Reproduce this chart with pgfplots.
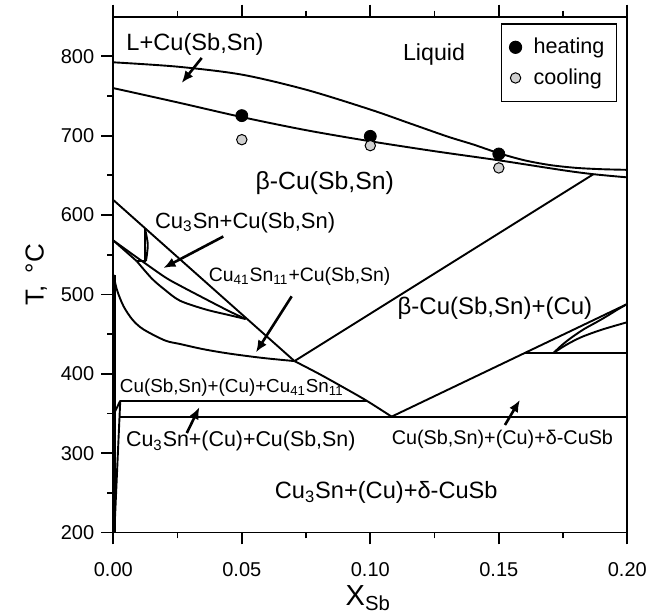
\documentclass[border=0pt]{standalone}
\usepackage{fontspec}
\setmainfont{Liberation Sans}
\usepackage{pgfplots}
\pgfplotsset{compat=1.18}
\usetikzlibrary{arrows.meta}
\definecolor{cool}{HTML}{D0D0D0}
\newcommand{\fs}[1]{\fontsize{#1}{#1}\selectfont}
\pgfplotsset{pb/.style={black, line width=0.95pt, forget plot, mark=none}}
\tikzset{arr/.style={line width=1.3pt, -{Latex[length=6pt,width=5pt]}}}
\begin{document}
\begin{tikzpicture}
% top ticks only
\begin{axis}[
  scale only axis, width=257pt, height=257.9pt,
  xmin=0, xmax=0.2, ymin=200, ymax=850,
  axis x line*=top, axis y line=none,
  xtick={0,0.05,0.1,0.15,0.2}, xticklabels={},
  minor xtick={0.025,0.075,0.125,0.175},
  tick align=outside,
  major tick length=6pt, minor tick length=3pt,
  axis line style={line width=0.9pt, -},
  xtick style={black, line width=0.9pt},
]
\end{axis}
\begin{axis}[
  scale only axis, width=257pt, height=257.9pt,
  xmin=0, xmax=0.2, ymin=200, ymax=850,
  xtick={0,0.05,0.1,0.15,0.2},
  xticklabels={0.00,0.05,0.10,0.15,0.20},
  ytick={200,300,400,500,600,700,800},
  minor xtick={0.025,0.075,0.125,0.175},
  minor ytick={250,350,450,550,650,750},
  tick align=outside,
  xtick pos=left, ytick pos=left,
  major tick length=6pt, minor tick length=3pt,
  axis line style={line width=0.9pt},
  xtick style={black, line width=0.9pt},
  ytick style={black, line width=0.9pt},
  tick label style={font=\fs{10}},
  x tick label style={yshift=-5.5pt},
  /pgf/number format/assume math mode=true,
  xlabel={X\textsubscript{Sb}},
  xlabel style={at={(axis description cs:0.496,-0.1425)}, anchor=base, font=\fs{14.5}},
  ylabel={T, \,°C},
  ylabel style={at={(axis description cs:-0.1498,0.5)}, anchor=center, font=\fs{13}},
  legend style={at={(rel axis cs:0.98,0.987)}, anchor=north east, draw=black, line width=0.6pt,
    font=\fs{10.8}, inner xsep=4pt, inner ysep=5pt, row sep=2pt},
  legend cell align=left,
]
\coordinate (bl) at (rel axis cs:0,0);
\coordinate (tr) at (rel axis cs:1,1);
% data points
\addplot[only marks, mark=*, mark size=3pt, draw=black, fill=black] coordinates {(0.05,725.3) (0.10,699.2) (0.15,677)};
\addlegendentry{\hspace{4pt}heating}
\addplot[only marks, mark=*, mark size=2.6pt, draw=black, line width=0.5pt, fill=cool] coordinates {(0.05,695) (0.10,687.5) (0.15,659.4)};
\addlegendentry{\hspace{4pt}cooling}
% liquidus
\addplot[pb, smooth, tension=0.5] coordinates {(0,792.5) (0.025,787) (0.05,777) (0.075,758) (0.1,733) (0.115,716) (0.13,699) (0.14,689) (0.15,678) (0.16,669) (0.17,663) (0.18,659.5) (0.19,657.8) (0.2,657)};
% solidus
\addplot[pb, smooth, tension=0.5] coordinates {(0,760) (0.025,742) (0.05,723.5) (0.075,707) (0.1,693) (0.125,680.5) (0.15,669) (0.175,656.5) (0.1868,651.5) (0.2,647.5)};
% beta / beta+Cu boundary
\addplot[pb] coordinates {(0.0705,416) (0.1868,651.5)};
% diagonal
\addplot[pb] coordinates {(0,619) (0.0705,416)};
\addplot[pb, smooth, tension=0.5] coordinates {(0.0705,416) (0.08,400) (0.09,382) (0.0986,366) (0.1083,346)};
% lower right
\addplot[pb] coordinates {(0.1083,346) (0.2,488)};
\addplot[pb] coordinates {(0.1602,426) (0.2,426)};
\addplot[pb, smooth, tension=0.5] coordinates {(0.1712,426) (0.1745,436) (0.178,445) (0.183,456) (0.188,465) (0.192,472.5) (0.196,480.5) (0.2,488)};
\addplot[pb, smooth, tension=0.5] coordinates {(0.1712,426) (0.176,436) (0.182,446) (0.19,455.5) (0.2,465)};
% horizontals
\addplot[pb] coordinates {(0.0025,346) (0.2,346)};
\addplot[pb] coordinates {(0.0027,366) (0.0986,366)};
% near x=0
\addplot[pb] coordinates {(0.0004,200) (0.0027,366)};
\addplot[pb] coordinates {(0.0007,352.6) (0.0027,366)};
\addplot[pb, line width=0.7pt] coordinates {(0.0006,200) (0.0006,525)};
% Cu3Sn region boundaries
\addplot[pb] coordinates {(0,568) (0.0091,542)};
\addplot[pb, smooth, tension=0.5] coordinates {(0,568) (0.009,547) (0.02,522) (0.026,511) (0.036,494) (0.045,479) (0.0515,469)};
\addplot[pb, smooth, tension=0.5] coordinates {(0.0091,542) (0.015,520) (0.02,506) (0.026,492) (0.036,481) (0.045,474) (0.0515,469)};
\addplot[pb] coordinates {(0.0123,583) (0.0123,542)};
\addplot[pb, smooth, tension=0.6] coordinates {(0.0123,583) (0.0134,563) (0.0127,542)};
\addplot[pb] coordinates {(0.0091,542) (0.0127,542)};
% Cu41Sn11 lower boundary
\addplot[pb, smooth, tension=0.5] coordinates {(0,525) (0.0015,505) (0.004,485) (0.0075,468) (0.0117,456) (0.0201,442) (0.026,437.5) (0.035,431) (0.045,425.5) (0.058,420) (0.0705,416)};
% labels
\node[font=\fs{11.8}] at (axis cs:0.0318,814.7) {L+Cu(Sb,Sn)};
\node[font=\fs{11.6}] at (axis cs:0.1248,802) {Liquid};
\node[font=\fs{12.4}] at (axis cs:0.0823,640.7) {β-Cu(Sb,Sn)};
\node[font=\fs{11}] at (axis cs:0.0513,590) {Cu\textsubscript{3}Sn+Cu(Sb,Sn)};
\node[font=\fs{9.7}] at (axis cs:0.0725,522.7) {Cu\textsubscript{41}Sn\textsubscript{11}+Cu(Sb,Sn)};
\node[font=\fs{12}] at (axis cs:0.1485,482.9) {β-Cu(Sb,Sn)+(Cu)};
\node[font=\fs{9.4}] at (axis cs:0.0461,382) {Cu(Sb,Sn)+(Cu)+Cu\textsubscript{41}Sn\textsubscript{11}};
\node[font=\fs{10.7}] at (axis cs:0.0496,314.8) {Cu\textsubscript{3}Sn+(Cu)+Cu(Sb,Sn)};
\node[font=\fs{9.9}] at (axis cs:0.1514,317) {Cu(Sb,Sn)+(Cu)+δ-CuSb};
\node[font=\fs{11.8}] at (axis cs:0.1062,250) {Cu\textsubscript{3}Sn+(Cu)+δ-CuSb};
% arrows
\draw[arr] (axis cs:0.0344,798) -- (axis cs:0.0266,766.5);
\draw[arr] (axis cs:0.0428,573) -- (axis cs:0.0195,533.3);
\draw[arr] (axis cs:0.0694,497.6) -- (axis cs:0.0555,427);
\draw[arr] (axis cs:0.0286,325.3) -- (axis cs:0.0335,358);
\draw[arr] (axis cs:0.1524,335.5) -- (axis cs:0.1582,367);
\end{axis}
\pgfresetboundingbox
\path[use as bounding box] ([xshift=-56.65pt,yshift=-41.25pt]bl) rectangle ([xshift=14.35pt,yshift=8.35pt]tr);
\end{tikzpicture}
\end{document}
